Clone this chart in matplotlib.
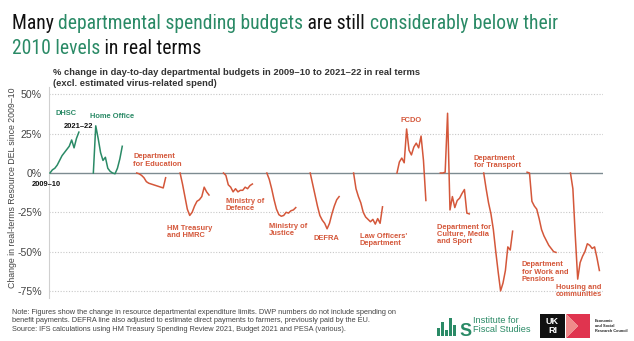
import matplotlib
matplotlib.use("Agg")
import matplotlib.pyplot as plt
from matplotlib import font_manager as fm
from matplotlib.patches import Rectangle, Polygon

# ---------------- data ----------------
years = ["2009–10", "2010–11", "2011–12", "2012–13", "2013–14", "2014–15", "2015–16",
         "2016–17", "2017–18", "2018–19", "2019–20", "2020–21", "2021–22"]
departments = ["DHSC", "Home Office", "Department\nfor Education", "HM Treasury\nand HMRC",
               "Ministry of\nDefence", "Ministry of\nJustice", "DEFRA", "Law Officers'\nDepartment",
               "FCDO", "Department for\nCulture, Media\nand Sport", "Department\nfor Transport",
               "Department\nfor Work and\nPensions", "Housing and\ncommunities"]
dhsc = [0, 2, 3, 5, 8, 11, 13, 15, 17, 21, 16, 22, 26]
home_office = [0, 30, 22, 13, 8, 10, 3, 1, 0, -0.5, 3, 9, 17]
education = [0, -0.5, -1.5, -3, -5.5, -6.5, -7, -7.5, -8, -8.5, -9, -9.5, -3]
hm_treasury = [0, -7, -15, -23, -27, -25, -21, -18, -17, -15, -9, -12, -14]
defence = [0, -1.5, -7.5, -9, -12, -10, -12, -11, -11, -9, -10, -8, -7]
justice = [0, -4, -10, -17, -23, -26.5, -27.5, -27, -25, -25.5, -24, -23.5, -22]
defra = [0, -7, -14, -21, -27, -30, -32, -35.5, -32, -26, -21, -17, -15]
law_officers = [0, -10, -15, -19, -25, -28, -29.5, -31, -29.5, -32.5, -29, -32, -21.5]
fcdo = [0, 7, 9.5, 6.5, 28, 14.5, 11.5, 16.5, 19, 16, 23.5, 8, -17.5]
dcms = [0, 0, 0.5, 38, -23.5, -15, -22, -17.5, -16, -13, -10.5, -25.5, -26]
transport = [0, -10, -19, -26, -36, -50, -63, -75, -70, -62, -47, -49, -37]
dwp = [0.5, 0, -18, -21, -23, -29, -36, -40, -43, -46, -48, -50, -50.5]
housing = [0, -10, -40, -67.5, -57, -53, -50, -45, -46, -48, -47, -54, -62]
series = [dhsc, home_office, education, hm_treasury, defence, justice, defra,
          law_officers, fcdo, dcms, transport, dwp, housing]
yticks = [50, 25, 0, -25, -50, -75]
ytick_labels = ["50%", "25%", "0%", "-25%", "-50%", "-75%"]

# ---------------- styling ----------------
W, H = 634, 341
GREEN = "#2a8a66"
ORANGE = "#d4573a"
DARK = "#333333"
entries = fm.fontManager.ttflist
names = {f.name for f in entries}
SANS = "Liberation Sans"
COND, COND_STRETCH = SANS, "normal"
for n in ["Roboto Condensed", "Open Sans Condensed", "Liberation Sans Narrow", "Arial Narrow"]:
    if n in names:
        COND, COND_STRETCH = n, "normal"
        break
else:
    for f in entries:
        if f.name == "DejaVu Sans" and "condensed" in str(f.stretch):
            COND, COND_STRETCH = "DejaVu Sans", "condensed"
            break

fig = plt.figure(figsize=(W / 100, H / 100), dpi=100)
fig.patch.set_facecolor("white")
renderer = fig.canvas.get_renderer()


def fx(px):
    return px / W


def fy(py):
    return 1 - py / H


ax = fig.add_axes([fx(49), fy(298), fx(603) - fx(49), fy(87) - fy(298)])
ax.set_xlim(-0.4, 229.5)
ax.set_ylim(-79.5, 54.7)

STEP = 18
for i, vals in enumerate(series):
    xs = [i * STEP + j for j in range(len(years))]
    ax.plot(xs, vals, color=GREEN if i < 2 else ORANGE, lw=1.1, zorder=3)

for v in yticks:
    if v == 0:
        ax.axhline(0, color="#7d8b91", lw=1.0, zorder=2)
    else:
        ax.axhline(v, color="#c8c8c8", lw=0.8, ls=(0, (1, 1.5)), zorder=1)

ax.set_yticks(yticks)
ax.set_yticklabels(ytick_labels, fontsize=7.6, color="#444444", family=SANS)
ax.tick_params(axis="y", length=0, pad=5)
ax.set_xticks([])
for s in ["top", "right", "bottom"]:
    ax.spines[s].set_visible(False)
ax.spines["left"].set_color("#d0d0d0")
ax.spines["left"].set_linewidth(0.8)

fig.text(fx(13), fy(188), "Change in real-terms Resource DEL since 2009–10", rotation=90,
         ha="center", va="center", fontsize=6.3, color="#444444", family=SANS)

# ---------------- title ----------------
def fit_size(s, target, size, **kw):
    t = fig.text(0, 0, s, fontsize=size, **kw)
    w = t.get_window_extent(renderer).width
    t.remove()
    return size * target / w


def rich_line(x_px, y_px, parts, **kw):
    x = x_px
    for s, c in parts:
        t = fig.text(fx(x), fy(y_px), s, color=c, va="baseline", ha="left", **kw)
        x += t.get_window_extent(renderer).width


line1 = [("Many ", "#111111"), ("departmental spending budgets", GREEN),
         (" are still ", "#111111"), ("considerably below their", GREEN)]
line2 = [("2010 levels", GREEN), (" in real terms", "#111111")]
tkw = dict(family=COND, fontstretch=COND_STRETCH)
tsize = fit_size("".join(p[0] for p in line1), 551, 14, **tkw)
rich_line(12, 29, line1, fontsize=tsize, **tkw)
rich_line(12, 54, line2, fontsize=tsize, **tkw)

sub1 = "% change in day-to-day departmental budgets in 2009–10 to 2021–22 in real terms"
ssize = fit_size(sub1, 365, 7, family=SANS, weight="bold")
fig.text(fx(53), fy(75), sub1, fontsize=ssize, family=SANS, weight="bold", color=DARK)
fig.text(fx(53), fy(85.5), "(excl. estimated virus-related spend)", fontsize=ssize,
         family=SANS, weight="bold", color=DARK)

# ---------------- labels ----------------
LS = 5.4
label_pos = [(55, 114), (90, 117), (133, 160.5), (167, 232), (226, 205), (269, 230),
             (314, 239), (360, 240), (401, 120), (437, 234.5), (474, 162), (522, 272),
             (556, 291)]
for i, (name, (px, py)) in enumerate(zip(departments, label_pos)):
    fig.text(fx(px), fy(py), name, ha="left", va="center", fontsize=LS, weight="bold",
             family=SANS, color=GREEN if i < 2 else ORANGE, linespacing=1.02)
fig.text(fx(64), fy(127), years[-1], ha="left", va="center", fontsize=LS, weight="bold",
         family=SANS, color="#111111")
fig.text(fx(32), fy(185), years[0], ha="left", va="center", fontsize=LS, weight="bold",
         family=SANS, color="#111111")

# ---------------- footer ----------------
foot = ("Note: Figures show the change in resource departmental expenditure limits. DWP numbers do not include spending on\n"
        "benefit payments. DEFRA line also adjusted to estimate direct payments to farmers, previously paid by the EU.\n"
        "Source: IFS calculations using HM Treasury Spending Review 2021, Budget 2021 and PESA (various).")
fsize = fit_size(foot.split("\n")[0], 394, 5, family=SANS)
fig.text(fx(12), fy(309), foot, fontsize=fsize, family=SANS, color="#444444", va="top",
         linespacing=1.3)

# IFS logo
for bx, bh in [(437, 8), (441, 14), (445, 6), (449, 18), (453, 11)]:
    fig.patches.append(Rectangle((fx(bx), fy(336)), fx(3), bh / H, transform=fig.transFigure,
                                 color=GREEN, lw=0))
fig.text(fx(459), fy(336), "S", fontsize=13, family=SANS, weight="bold", color=GREEN,
         va="baseline")
fig.text(fx(473), fy(325), "Institute for\nFiscal Studies", fontsize=6.6, family=SANS,
         color=GREEN, va="center", linespacing=1.0)

# UKRI / ESRC logo
fig.patches.append(Rectangle((fx(540), fy(338)), fx(25), 24 / H, transform=fig.transFigure,
                             color="#111111", lw=0))
fig.text(fx(552.5), fy(326), "UK\nRI", fontsize=6.5, family=SANS, weight="bold",
         color="white", ha="center", va="center", linespacing=0.9)
fig.patches.append(Polygon([(fx(566), fy(314)), (fx(590), fy(314)), (fx(590), fy(338)),
                            (fx(566), fy(338)), (fx(578), fy(326))], closed=True,
                           transform=fig.transFigure, color="#e0344f", lw=0))
fig.patches.append(Polygon([(fx(566), fy(314)), (fx(578), fy(326)), (fx(566), fy(338))],
                           closed=True, transform=fig.transFigure, color="#f08a8a", lw=0))
esize = fit_size("Research Council", 33, 4, family=SANS, weight="bold")
fig.text(fx(595), fy(326), "Economic\nand Social\nResearch Council", fontsize=esize,
         family=SANS, weight="bold", color="#222222", va="center", linespacing=1.2)

fig.savefig("out.png", dpi=100, facecolor="white")
